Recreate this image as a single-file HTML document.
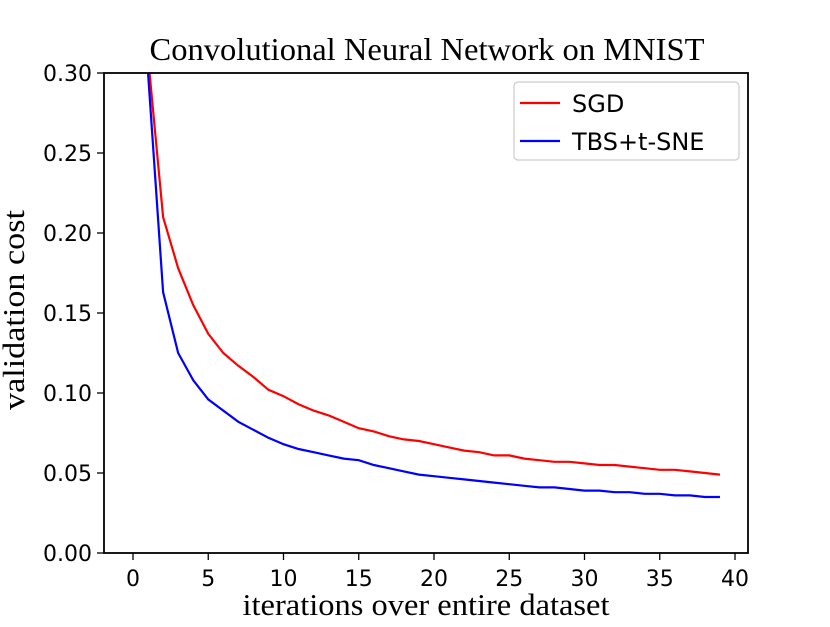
<!DOCTYPE html>
<html><head><meta charset="utf-8"><style>
html,body{margin:0;padding:0;background:#fff;}
svg text{font-family:"DejaVu Sans","Liberation Sans",sans-serif;}
.serif{font-family:"Liberation Serif",serif;}
</style></head><body>
<svg id="chart" width="830" height="622" xmlns="http://www.w3.org/2000/svg">
<defs><clipPath id="clip"><rect x="104" y="73" width="644" height="480"/></clipPath></defs>
<rect x="0" y="0" width="830" height="622" fill="#fff"/>
<text class="serif" x="427" y="60" font-size="32" text-anchor="middle" textLength="555" lengthAdjust="spacingAndGlyphs">Convolutional Neural Network on MNIST</text>
<g id="axes"></g>
<g id="series" clip-path="url(#clip)"></g>
<rect x="104" y="73" width="644" height="480" fill="none" stroke="#000" stroke-width="1.8"/>
<text class="serif" x="426" y="615" font-size="31" text-anchor="middle" textLength="367" lengthAdjust="spacingAndGlyphs">iterations over entire dataset</text>
<text class="serif" x="0" y="0" font-size="31" text-anchor="middle" textLength="200" lengthAdjust="spacingAndGlyphs" transform="translate(24,310) rotate(-90)">validation cost</text>
<g>
<rect x="514" y="82" width="225" height="78" rx="4" fill="#fff" stroke="#ccc" stroke-width="1.2"/>
<line x1="520" y1="103" x2="560" y2="103" stroke="#f00" stroke-width="2.2"/>
<text x="572" y="112" font-size="24">SGD</text>
<line x1="520" y1="141" x2="560" y2="141" stroke="#00f" stroke-width="2.2"/>
<text x="572" y="150" font-size="24">TBS+t-SNE</text>
</g>
</svg>
<script>
const iterations=[1,2,3,4,5,6,7,8,9,10,11,12,13,14,15,16,17,18,19,20,21,22,23,24,25,26,27,28,29,30,31,32,33,34,35,36,37,38,39];
const sgdValues=[0.31,0.21,0.178,0.155,0.137,0.125,0.117,0.110,0.102,0.098,0.093,0.089,0.086,0.082,0.078,0.076,0.073,0.071,0.070,0.068,0.066,0.064,0.063,0.061,0.061,0.059,0.058,0.057,0.057,0.056,0.055,0.055,0.054,0.053,0.052,0.052,0.051,0.050,0.049];
const tbsValues=[0.30,0.163,0.125,0.108,0.096,0.089,0.082,0.077,0.072,0.068,0.065,0.063,0.061,0.059,0.058,0.055,0.053,0.051,0.049,0.048,0.047,0.046,0.045,0.044,0.043,0.042,0.041,0.041,0.040,0.039,0.039,0.038,0.038,0.037,0.037,0.036,0.036,0.035,0.035];
const xTicks=[0,5,10,15,20,25,30,35,40];
const yTicks=[0,0.05,0.10,0.15,0.20,0.25,0.30];
const NS='http://www.w3.org/2000/svg';
function xs(v){return 133+v*(735-133)/40;}
function ys(v){return 553-v*(480/0.30);}
const axes=document.getElementById('axes');
xTicks.forEach(t=>{
 const l=document.createElementNS(NS,'line');
 l.setAttribute('x1',xs(t));l.setAttribute('x2',xs(t));l.setAttribute('y1',553);l.setAttribute('y2',560);
 l.setAttribute('stroke','#000');l.setAttribute('stroke-width','1.3');
 
 
 axes.appendChild(l);
 const tx=document.createElementNS(NS,'text');
 tx.setAttribute('x',xs(t));tx.setAttribute('y',586);tx.setAttribute('font-size','22');tx.setAttribute('text-anchor','middle');
 tx.textContent=t;
 
 
 axes.appendChild(tx);
});
yTicks.forEach(t=>{
 const l=document.createElementNS(NS,'line');
 l.setAttribute('x1',97);l.setAttribute('x2',104);l.setAttribute('y1',ys(t));l.setAttribute('y2',ys(t));
 l.setAttribute('stroke','#000');l.setAttribute('stroke-width','1.3');
 
 
 axes.appendChild(l);
 const tx=document.createElementNS(NS,'text');
 tx.setAttribute('x',92);tx.setAttribute('y',ys(t)+8);tx.setAttribute('font-size','22');tx.setAttribute('text-anchor','end');
 tx.textContent=t.toFixed(2);
 
 
 axes.appendChild(tx);
});
const series=document.getElementById('series');
function drawLine(vals,color,name){
 const p=document.createElementNS(NS,'polyline');
 p.setAttribute('points',vals.map((v,i)=>xs(iterations[i])+','+ys(v)).join(' '));
 p.setAttribute('fill','none');p.setAttribute('stroke',color);p.setAttribute('stroke-width','2.2');
 
 
 series.appendChild(p);
}
drawLine(sgdValues,'#f00','sgd-line');
drawLine(tbsValues,'#00f','tbs-tsne-line');
</script>
</body></html>
